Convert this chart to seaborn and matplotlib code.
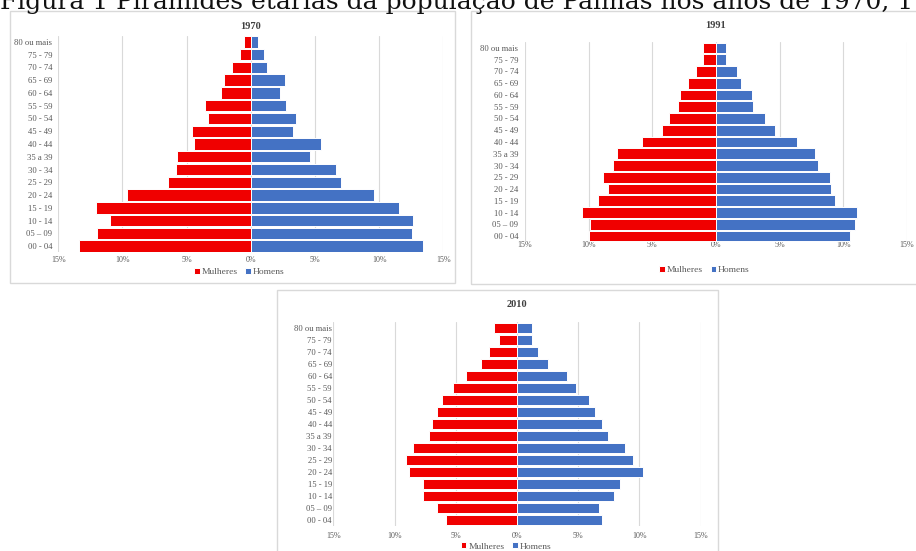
import matplotlib
matplotlib.use("Agg")
import matplotlib.pyplot as plt
from matplotlib.patches import Rectangle
import seaborn as sns
import pandas as pd

# Age groups, listed from the top of each pyramid to the bottom
faixas = ["80 ou mais", "75 - 79", "70 - 74", "65 - 69", "60 - 64", "55 - 59",
          "50 - 54", "45 - 49", "40 - 44", "35 a 39", "30 - 34", "25 - 29",
          "20 - 24", "15 - 19", "10 - 14", "05 \u2013 09", "00 - 04"]

# Share of the population (%) in each age group
mulheres_1970 = [0.55, 0.85, 1.45, 2.1, 2.35, 3.55, 3.35, 4.55, 4.45, 5.75, 5.85,
                 6.45, 9.65, 12.05, 11.0, 12.0, 13.4]
homens_1970 = [0.55, 1.0, 1.3, 2.65, 2.25, 2.75, 3.5, 3.3, 5.45, 4.65, 6.6,
               7.05, 9.6, 11.55, 12.65, 12.55, 13.45]

mulheres_1991 = [1.0, 1.0, 1.6, 2.2, 2.85, 2.95, 3.7, 4.25, 5.85, 7.75, 8.1,
                 8.9, 8.45, 9.3, 10.5, 9.9, 10.0]
homens_1991 = [0.75, 0.8, 1.65, 1.95, 2.8, 2.9, 3.85, 4.6, 6.4, 7.75, 8.0,
               8.95, 9.05, 9.35, 11.05, 10.9, 10.55]

mulheres_2010 = [1.9, 1.5, 2.3, 2.95, 4.15, 5.2, 6.1, 6.55, 6.95, 7.2, 8.5,
                 9.1, 8.8, 7.7, 7.7, 6.55, 5.8]
homens_2010 = [1.2, 1.25, 1.7, 2.5, 4.05, 4.8, 5.85, 6.4, 6.95, 7.4, 8.8,
               9.5, 10.25, 8.4, 7.95, 6.7, 6.95]

ticks_x = [-15, -10, -5, 0, 5, 10, 15]
rotulos_x = ["15%", "10%", "5%", "0%", "5%", "10%", "15%"]
sexos = ["Mulheres", "Homens"]
cores = {"Mulheres": "#F00000", "Homens": "#4472C4"}

titulo = "Figura 1 Pir\u00e2mides et\u00e1rias da popula\u00e7\u00e3o de Palmas nos anos de 1970, 1"

sns.set_theme(style="white")
plt.rcParams["font.family"] = ["Liberation Serif", "DejaVu Serif"]

W, H = 916, 551
fig = plt.figure(figsize=(W / 100, H / 100), dpi=100)
fig.patch.set_facecolor("white")


def px_axes(x0, y0, x1, y1):
    """Axes placed by pixel box (top-left origin)."""
    return fig.add_axes([x0 / W, 1 - y1 / H, (x1 - x0) / W, (y1 - y0) / H])


def frame(x0, y0, x1, y1):
    fig.patches.append(Rectangle((x0 / W, 1 - y1 / H), (x1 - x0) / W, (y1 - y0) / H,
                                 transform=fig.transFigure, fill=False,
                                 edgecolor="#D9D9D9", linewidth=1.0, zorder=0))


def piramide(ax, ano, mulheres, homens, legend_y, title_pad, xpad, ypad):
    df = pd.DataFrame({
        "faixa": faixas * 2,
        "valor": [-v for v in mulheres] + list(homens),
        "sexo": ["Mulheres"] * len(faixas) + ["Homens"] * len(faixas),
    })
    sns.barplot(data=df, x="valor", y="faixa", hue="sexo", order=faixas,
                hue_order=sexos, palette=cores, saturation=1, orient="h",
                dodge=False, width=0.9, edgecolor="white", linewidth=0.7,
                ax=ax, zorder=3)
    ax.set_xlim(-15, 15)
    ax.set_ylim(len(faixas) - 0.5, -0.5)
    ax.set_xticks(ticks_x)
    ax.set_xticklabels(rotulos_x, fontsize=5.8, color="#595959")
    ax.tick_params(axis="y", labelsize=6.2, labelcolor="#595959", length=0, pad=ypad)
    ax.tick_params(axis="x", length=0, pad=xpad)
    for x in ticks_x:
        ax.axvline(x, color="#D9D9D9", linewidth=0.8, zorder=1)
    for s in ax.spines.values():
        s.set_visible(False)
    ax.set_xlabel("")
    ax.set_ylabel("")
    ax.set_title(ano, fontsize=7.5, fontweight="bold", color="#404040", pad=title_pad)
    sns.move_legend(ax, "center", bbox_to_anchor=(0.47, legend_y), ncol=2,
                    frameon=False, fontsize=6.8, title=None, handlelength=0.6,
                    handleheight=0.6, handletextpad=0.2, columnspacing=0.8,
                    labelcolor="#595959")


# 1970
frame(10, 11, 455, 283)
ax1 = px_axes(58.3, 35.6, 443.3, 252.4)
piramide(ax1, "1970", mulheres_1970, homens_1970, -0.09, 4.5, 2.5, 4.5)

# 1991
frame(471, 11, 920, 284)
ax2 = px_axes(525, 42.1, 907, 241.9)
piramide(ax2, "1991", mulheres_1991, homens_1991, -0.14, 10, -1, 5)

# 2010
frame(277, 290, 718, 560)
ax3 = px_axes(333.3, 322, 700.7, 526)
piramide(ax3, "2010", mulheres_2010, homens_2010, -0.1, 11, 4, 1)

# Heading, partly above the top edge of the page
t = fig.text(0.0, 1 - 9 / H, titulo, ha="left", va="baseline",
             fontsize=16, family=["DejaVu Serif"], color="#111111")
fig.canvas.draw()
largura = t.get_window_extent().width
t.set_fontsize(16 * 914 / largura)

fig.savefig("out.png", dpi=100, facecolor="white")
